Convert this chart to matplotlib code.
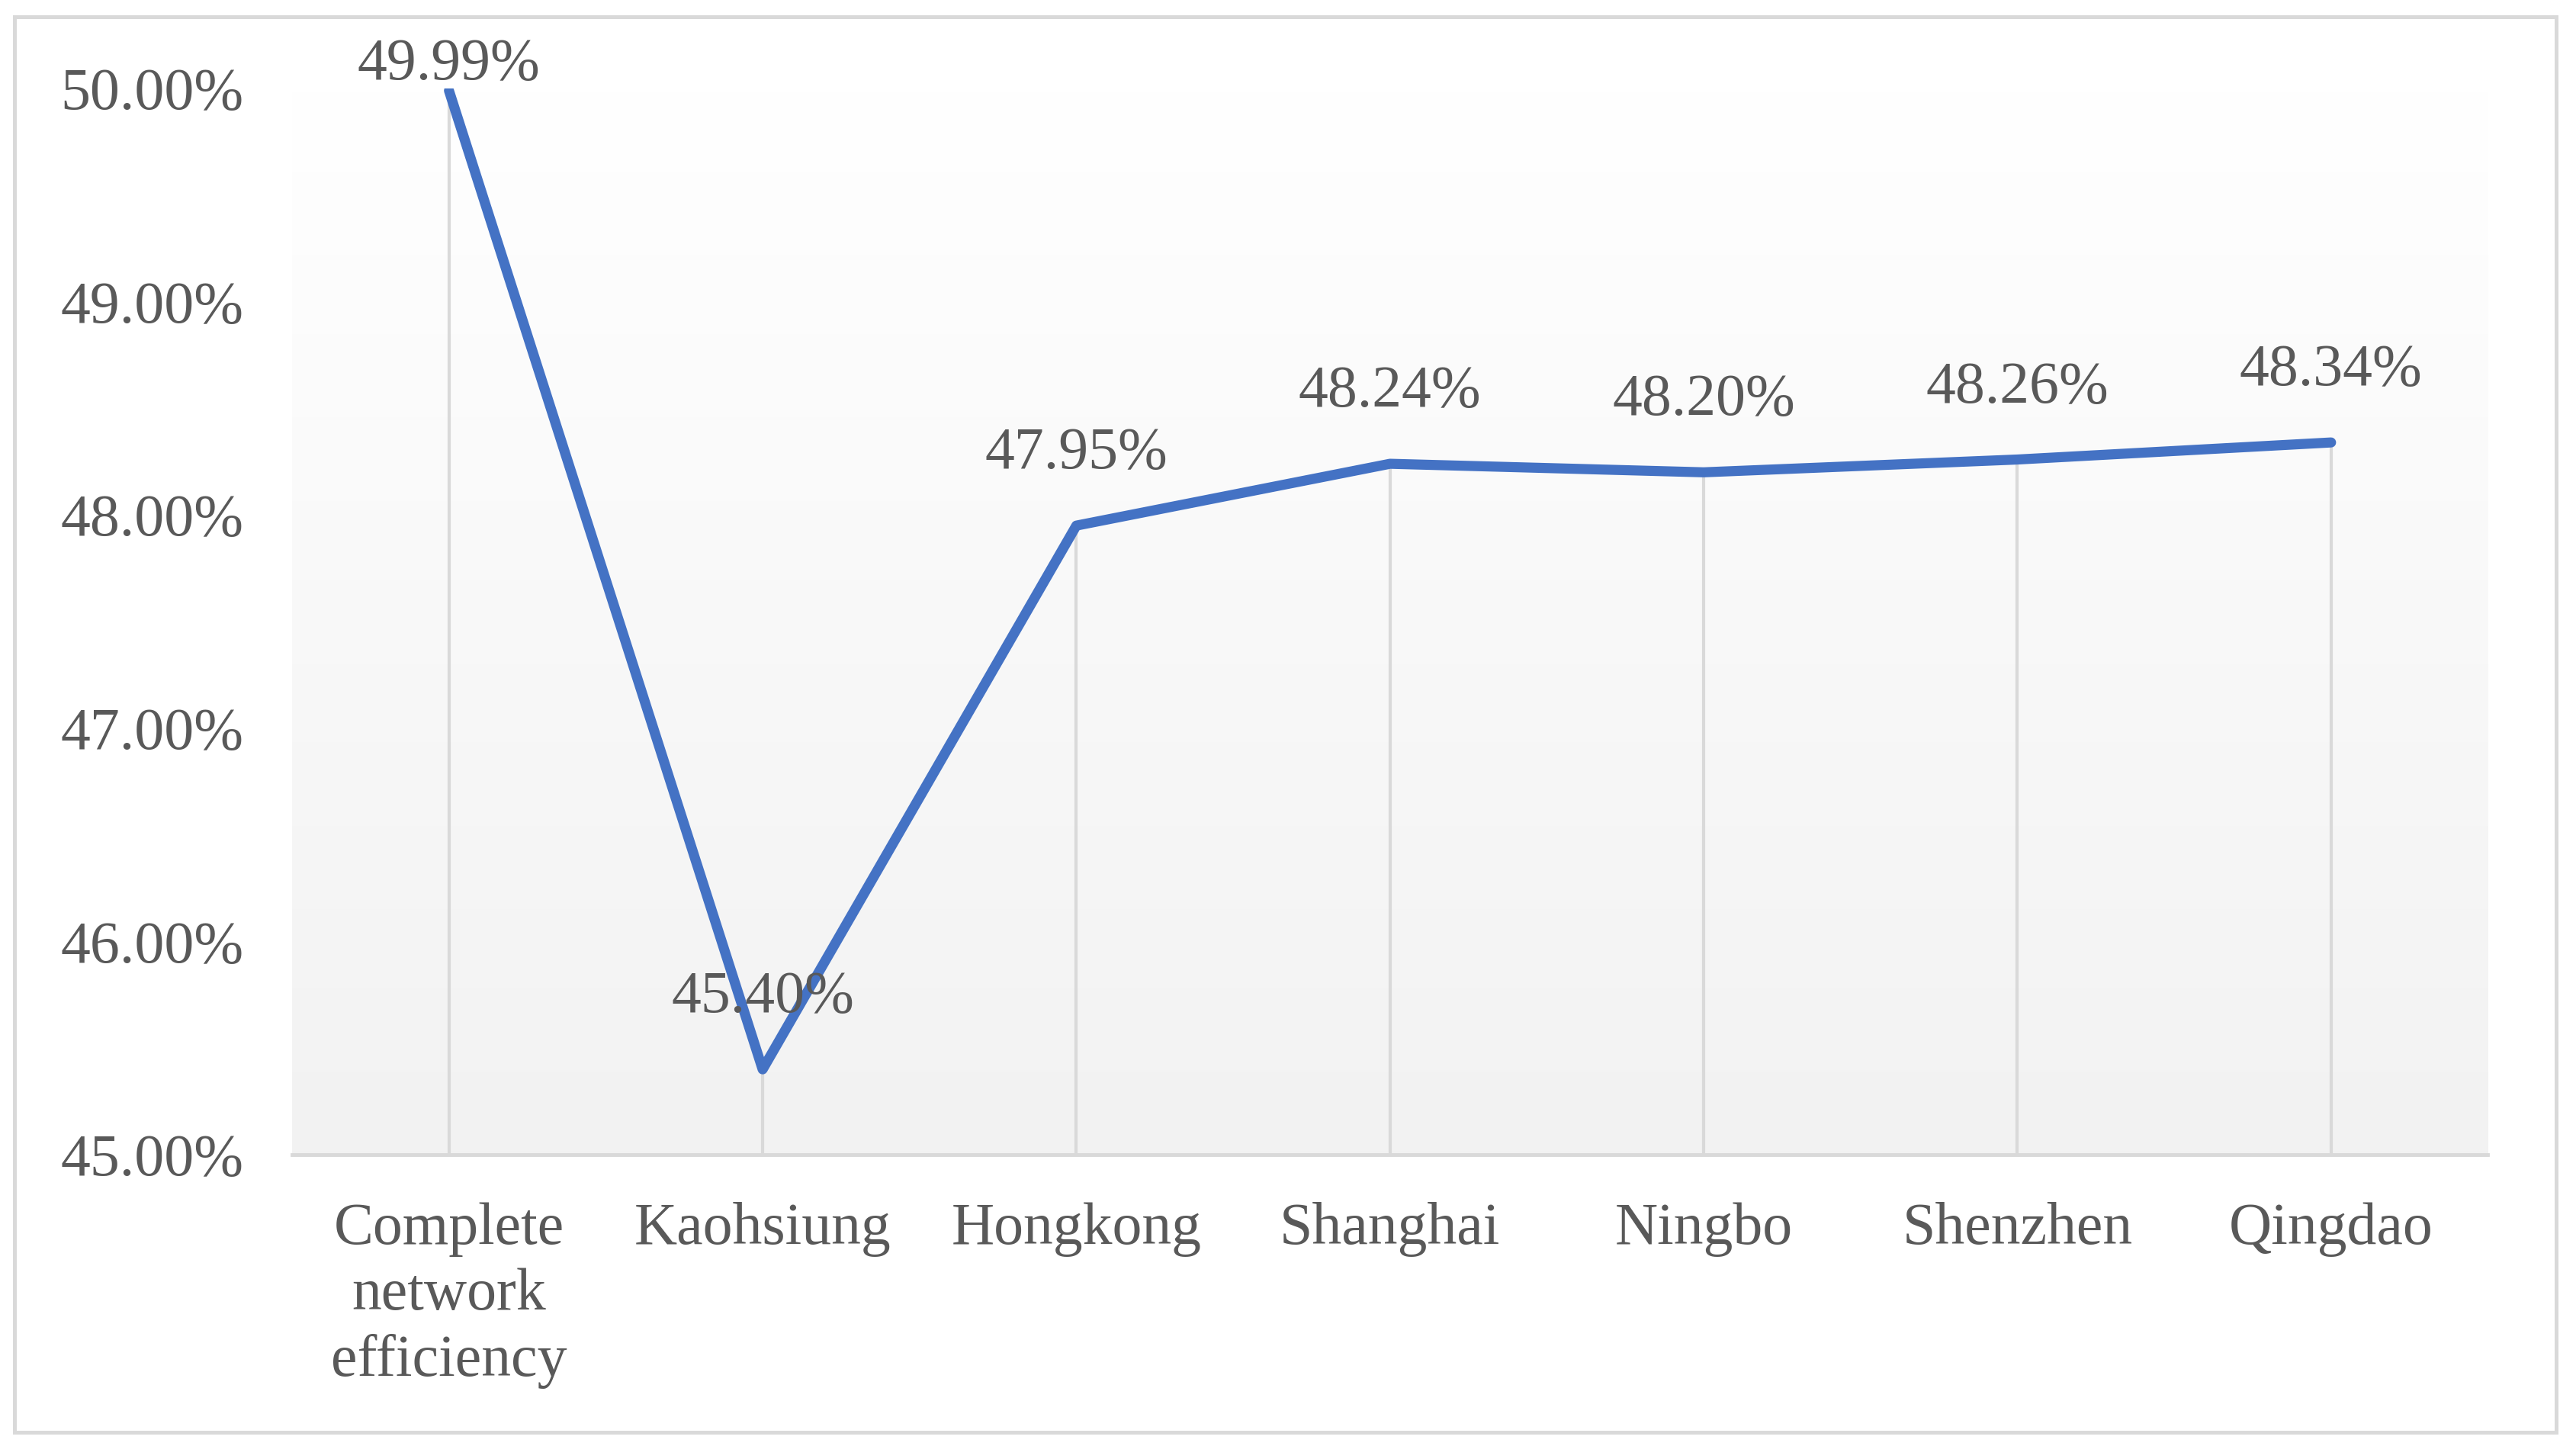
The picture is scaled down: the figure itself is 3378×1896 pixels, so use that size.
import numpy as np
import matplotlib.pyplot as plt
from matplotlib.patches import Rectangle

# data
categories = ['Complete\nnetwork\nefficiency', 'Kaohsiung', 'Hongkong', 'Shanghai',
              'Ningbo', 'Shenzhen', 'Qingdao']
efficiency = [49.99, 45.40, 47.95, 48.24, 48.20, 48.26, 48.34]
value_labels = ['49.99%', '45.40%', '47.95%', '48.24%', '48.20%', '48.26%', '48.34%']
y_ticks = [45, 46, 47, 48, 49, 50]

TEXT = '#595959'
LINE = '#4472C4'
GRID = '#D9D9D9'

plt.rcParams['font.family'] = ['Liberation Serif', 'DejaVu Serif']
FS = 56

fig = plt.figure(figsize=(33.78, 18.96), dpi=100)
ax = fig.add_axes([0.1134, 0.2015, 0.8524, 0.7373])

x = np.arange(len(categories))

# plot area gradient (white -> light gray)
grad = np.linspace(1.0, 0.949, 256).reshape(-1, 1)
ax.imshow(np.dstack([grad, grad, grad]), extent=[-0.5, len(categories) - 0.5, 45, 50],
          aspect='auto', zorder=0, origin='upper')

# drop lines from each point down to the axis
ax.vlines(x, 45, efficiency, color=GRID, lw=3, zorder=1)

ax.plot(x, efficiency, color=LINE, lw=9.5, solid_capstyle='round',
        solid_joinstyle='round', zorder=3)

# data labels; the first one is pushed down by the chart edge, as in Excel
offsets = [11, 54, 54, 54, 54, 54, 54]
for xi, yi, lab, off in zip(x, efficiency, value_labels, offsets):
    ax.annotate(lab, (xi, yi), xytext=(0, off), textcoords='offset points',
                ha='center', va='baseline', fontsize=FS, color=TEXT, zorder=4)

ax.set_xlim(-0.5, len(categories) - 0.5)
ax.set_ylim(45, 50)
ax.set_xticks(x)
ax.set_xticklabels(categories, fontsize=FS, color=TEXT, linespacing=1.27)
ax.set_yticks(y_ticks)
ax.set_yticklabels([f'{t:.2f}%' for t in y_ticks], fontsize=FS, color=TEXT)
ax.tick_params(axis='both', length=0)
ax.tick_params(axis='y', pad=46)
ax.tick_params(axis='x', pad=45)

for s in ['top', 'right', 'left']:
    ax.spines[s].set_visible(False)
ax.spines['bottom'].set_color(GRID)
ax.spines['bottom'].set_linewidth(3.5)
ax.spines['bottom'].set_zorder(2)

# chart border
fig.patches.append(Rectangle((0.0056, 0.0095), 0.9867, 0.979, transform=fig.transFigure,
                             fill=False, edgecolor=GRID, lw=3.6))

fig.savefig('out.png', dpi=100)
